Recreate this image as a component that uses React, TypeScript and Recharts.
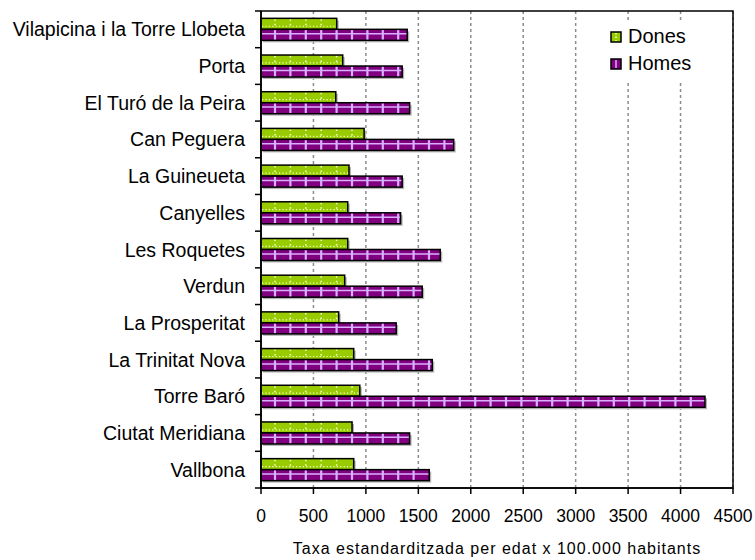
import {
  BarChart,
  Bar,
  XAxis,
  YAxis,
  CartesianGrid,
  Legend,
  ReferenceArea,
} from 'recharts'

const categories = [
  'Vilapicina i la Torre Llobeta',
  'Porta',
  'El Turó de la Peira',
  'Can Peguera',
  'La Guineueta',
  'Canyelles',
  'Les Roquetes',
  'Verdun',
  'La Prosperitat',
  'La Trinitat Nova',
  'Torre Baró',
  'Ciutat Meridiana',
  'Vallbona',
]
const dones = [722, 779, 713, 983, 839, 827, 827, 798, 741, 884, 942, 868, 884]
const homes = [1394, 1346, 1417, 1837, 1346, 1331, 1709, 1537, 1289, 1633, 4233, 1417, 1604]
const xTicks = [0, 500, 1000, 1500, 2000, 2500, 3000, 3500, 4000, 4500]
const seriesNames = ['Dones', 'Homes']

const data = categories.map((name, i) => ({ name, dones: dones[i], homes: homes[i] }))

const W = 755
const H = 560
const M = { top: 11, right: 22, bottom: 0, left: 0 }
const Y_AXIS_W = 261
const X_AXIS_H = 72
const BAND = (H - M.top - M.bottom - X_AXIS_H) / categories.length
const FONT = '"Liberation Sans", Arial, sans-serif'
const GREEN = '#99cc00'
const PURPLE = '#800080'
const LAVENDER = '#d9b0ff'

// vertical stripes every ~15px, like the excel fill pattern
function stripes(x: number, width: number) {
  const out: number[] = []
  for (let lx = x + 14; lx < x + width - 2; lx += 15.4) out.push(lx)
  return out
}

function DonesShape(props: any) {
  const { x, y, width, height } = props
  if (!width) return null
  return (
    <g>
      <rect x={x + 2} y={y + 2} width={width} height={height} fill="#b4b4b4" />
      <rect x={x} y={y} width={width} height={height} fill={GREEN} />
      {stripes(x, width).map((lx, i) => (
        <line key={i} x1={lx} x2={lx} y1={y + 1} y2={y + height - 1} stroke="#f4ffd0" strokeWidth={1.5} strokeDasharray="1.5 3" />
      ))}
      <line x1={x + 1} x2={x + width - 1} y1={y + height * 0.72} y2={y + height * 0.72} stroke="#f4ffd0" strokeWidth={1.2} strokeDasharray="1.2 2.2" />
      <rect x={x} y={y} width={width} height={height} fill="none" stroke="#000" strokeWidth={1.5} />
    </g>
  )
}

function HomesShape(props: any) {
  const { x, y, width, height } = props
  if (!width) return null
  return (
    <g>
      <rect x={x + 2} y={y + 2} width={width} height={height} fill="#b4b4b4" />
      <rect x={x} y={y} width={width} height={height} fill={PURPLE} />
      {stripes(x, width).map((lx, i) => (
        <line key={i} x1={lx} x2={lx} y1={y} y2={y + height} stroke={LAVENDER} strokeWidth={2.2} />
      ))}
      <line x1={x} x2={x + width} y1={y + height * 0.4} y2={y + height * 0.4} stroke={LAVENDER} strokeWidth={1.5} />
      <rect x={x} y={y} width={width} height={height} fill="none" stroke="#000" strokeWidth={1.5} />
    </g>
  )
}

function CategoryTick(props: any) {
  const { x, y, payload, index } = props
  const ax = x + 16
  return (
    <g>
      <text x={x} y={y} textAnchor="end" dominantBaseline="central" fontFamily={FONT} fontSize={19.5} fill="#000">
        {payload.value}
      </text>
      <line x1={ax - 6} x2={ax} y1={y + BAND / 2} y2={y + BAND / 2} stroke="#000" strokeWidth={1.5} />
      {index === 0 && <line x1={ax - 6} x2={ax} y1={y - BAND / 2} y2={y - BAND / 2} stroke="#000" strokeWidth={1.5} />}
    </g>
  )
}

function Swatch({ fill, stripe }: { fill: string; stripe: string }) {
  return (
    <svg width={12} height={12} style={{ display: 'block' }}>
      <rect x={1} y={1} width={10} height={10} fill={fill} stroke="#000" strokeWidth={1.5} />
      <line x1={6} x2={6} y1={2} y2={10} stroke={stripe} strokeWidth={1.5} strokeDasharray={fill === GREEN ? '1.5 2' : undefined} />
    </svg>
  )
}

function LegendBox() {
  const rows = [
    { name: seriesNames[0], fill: GREEN, stripe: '#f4ffd0' },
    { name: seriesNames[1], fill: PURPLE, stripe: LAVENDER },
  ]
  return (
    <div style={{ background: '#fff', padding: '0 10px 4px 7px', fontFamily: FONT, fontSize: 20, color: '#000' }}>
      {rows.map((r) => (
        <div key={r.name} style={{ display: 'flex', alignItems: 'center', height: 27 }}>
          <Swatch fill={r.fill} stripe={r.stripe} />
          <span style={{ marginLeft: 6 }}>{r.name}</span>
        </div>
      ))}
    </div>
  )
}

export default function App() {
  return (
    <div style={{ position: 'absolute', left: 0, top: 0, width: W, height: H, background: '#fff' }}>
      <BarChart
        width={W}
        height={H}
        data={data}
        layout="vertical"
        margin={M}
        barCategoryGap="20%"
        barGap={0}
      >
        <CartesianGrid horizontal={false} stroke="#8c8c8c" strokeWidth={1.5} strokeDasharray="3 3" />
        <XAxis
          type="number"
          domain={[0, 4500]}
          ticks={xTicks}
          interval={0}
          height={X_AXIS_H}
          axisLine={{ stroke: '#000', strokeWidth: 1.5 }}
          tickLine={{ stroke: '#000', strokeWidth: 1.5 }}
          tickSize={6}
          tickMargin={16}
          tick={{ fill: '#000', fontSize: 17.5, fontFamily: FONT }}
          label={{
            value: 'Taxa estandarditzada per edat x 100.000 habitants',
            position: 'insideBottom',
            offset: 6,
            fill: '#000',
            fontSize: 16,
            fontFamily: FONT,
            letterSpacing: 1,
          }}
        />
        <YAxis
          type="category"
          dataKey="name"
          width={Y_AXIS_W}
          interval={0}
          tickLine={false}
          tickSize={6}
          tickMargin={10}
          axisLine={{ stroke: '#000', strokeWidth: 1.5 }}
          tick={<CategoryTick />}
        />
        <Legend
          layout="horizontal"
          verticalAlign="middle"
          align="center"
          content={() => <LegendBox />}
          wrapperStyle={{ position: 'absolute', top: 23, left: 603, width: 'auto' }}
        />
        <Bar dataKey="dones" name={seriesNames[0]} fill={GREEN} shape={<DonesShape />} isAnimationActive={false} />
        <Bar dataKey="homes" name={seriesNames[1]} fill={PURPLE} shape={<HomesShape />} isAnimationActive={false} />
        <ReferenceArea x1={0} x2={4500} fill="none" stroke="#000" strokeWidth={1.5} ifOverflow="visible" />
      </BarChart>
    </div>
  )
}
